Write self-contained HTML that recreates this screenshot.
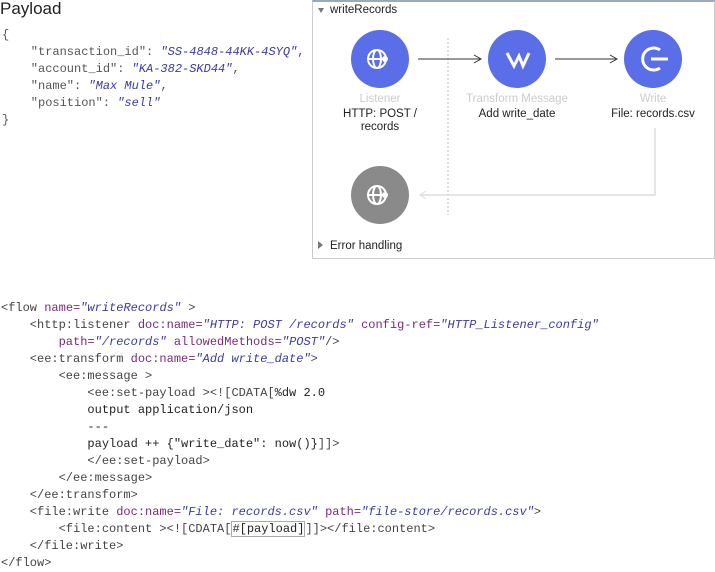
<!DOCTYPE html>
<html><head><meta charset="utf-8"><style>
body{margin:0;width:715px;height:570px;background:#fff;position:relative;overflow:hidden;font-family:"Liberation Sans",sans-serif}
.m{font-family:"Liberation Mono",monospace;font-size:12px;position:absolute;white-space:pre;color:#333}
.k{color:#7a2a78}.s{color:#3a3aa8;font-style:italic}.g{color:#555}
.t{position:absolute;font-size:11.5px;text-align:center;width:120px;color:#222}
</style></head><body>
<div style="position:absolute;left:0;top:-1px;font-size:17px;color:#222">Payload</div>
<div class="m" style="left:2px;top:27px;line-height:17px;color:#555">{
    "transaction_id": <span class="s">"SS-4848-44KK-4SYQ"</span>,
    "account_id": <span class="s">"KA-382-SKD44"</span>,
    "name": <span class="s">"Max Mule"</span>,
    "position": <span class="s">"sell"</span>
}</div>

<div style="position:absolute;left:312px;top:0;width:401px;height:256px;border:1px solid #ccc;border-top:2px solid #9ab;background:#fff"></div>
<svg style="position:absolute;left:0;top:0" width="715" height="570">
<line x1="448" y1="38" x2="448" y2="215" stroke="#bbb" stroke-dasharray="2,2"/>
<polyline points="655,128 655,195 420,195" fill="none" stroke="#ddd" stroke-width="1.5"/>
<path d="M426,191 L420,195 L426,199" fill="none" stroke="#ddd"/>
<line x1="418" y1="59" x2="480" y2="59" stroke="#333"/><path d="M474,55 L481,59 L474,63" fill="none" stroke="#333"/>
<line x1="555" y1="59" x2="616" y2="59" stroke="#333"/><path d="M610,55 L617,59 L610,63" fill="none" stroke="#333"/>
<circle cx="380" cy="59" r="29" fill="#5a6ee8"/>
<circle cx="517" cy="59" r="29" fill="#5a6ee8"/>
<circle cx="653" cy="59" r="29" fill="#5a6ee8"/>
<circle cx="380" cy="195" r="29" fill="#8a8a8a"/>
<g fill="none" stroke="#fff" stroke-width="2">
<circle cx="377" cy="59" r="9"/><ellipse cx="377" cy="59" rx="4" ry="9"/><line x1="368" y1="59" x2="386" y2="59"/>
<circle cx="377" cy="195" r="9"/><ellipse cx="377" cy="195" rx="4" ry="9"/><line x1="368" y1="195" x2="386" y2="195"/>
<path d="M507,53 L514,66 L519,56 L523,66 L529,53" stroke-width="3"/>
<path d="M660,50 A11,11 0 1 0 660,68" stroke-width="3"/><line x1="651" y1="59" x2="668" y2="59" stroke-width="3"/>
</g>
<circle cx="385" cy="59" r="3" fill="#fff"/><circle cx="385" cy="195" r="3" fill="#fff"/>
<path d="M318,8 L324,8 L321,13 Z" fill="#777"/><path d="M318,241 L318,249 L323,245 Z" fill="#777"/>
</svg>
<div style="position:absolute;left:330px;top:4px;font-size:11.5px;color:#222">writeRecords</div>
<div style="position:absolute;left:330px;top:240px;font-size:11.5px;color:#222">Error handling</div>
<div class="t" style="left:320px;top:93px;color:#ccc">Listener</div>
<div class="t" style="left:320px;top:108px;line-height:13px">HTTP: POST /<br>records</div>
<div class="t" style="left:452px;top:93px;color:#ccc;width:130px">Transform Message</div>
<div class="t" style="left:457px;top:108px">Add write_date</div>
<div class="t" style="left:593px;top:93px;color:#ccc">Write</div>
<div class="t" style="left:588px;top:108px;width:130px">File: records.csv</div>

<div class="m" style="left:1px;top:300px;line-height:17px;color:#444">&lt;flow <span class="k">name=</span><span class="s">"writeRecords"</span> &gt;
    &lt;http:listener <span class="k">doc:name=</span><span class="s">"HTTP: POST /records"</span> <span class="k">config-ref=</span><span class="s">"HTTP_Listener_config"</span>
        <span class="k">path=</span><span class="s">"/records"</span> <span class="k">allowedMethods=</span><span class="s">"POST"</span>/&gt;
    &lt;ee:transform <span class="k">doc:name=</span><span class="s">"Add write_date"</span>&gt;
        &lt;ee:message &gt;
            &lt;ee:set-payload &gt;&lt;![CDATA[<span style="color:#222">%dw 2.0</span>
<span style="color:#222">            output application/json
            ---
            payload ++ {"write_date": now()}</span>]]&gt;
            &lt;/ee:set-payload&gt;
        &lt;/ee:message&gt;
    &lt;/ee:transform&gt;
    &lt;file:write <span class="k">doc:name=</span><span class="s">"File: records.csv"</span> <span class="k">path=</span><span class="s">"file-store/records.csv"</span>&gt;
        &lt;file:content &gt;&lt;![CDATA[<span style="color:#222;border:1px solid #aaa">#[payload]</span>]]&gt;&lt;/file:content&gt;
    &lt;/file:write&gt;
&lt;/flow&gt;</div>
</body></html>
